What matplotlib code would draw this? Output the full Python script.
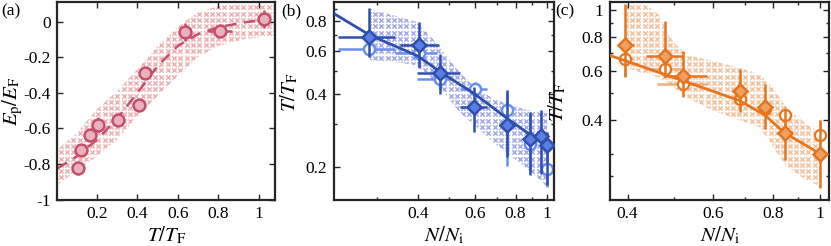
import numpy as np
import matplotlib
matplotlib.use("Agg")
import matplotlib.pyplot as plt
from matplotlib.patches import Polygon
from matplotlib.ticker import FixedLocator, NullFormatter

plt.rcParams['font.family'] = ['Liberation Serif', 'DejaVu Serif']
plt.rcParams['mathtext.fontset'] = 'stix'
plt.rcParams['axes.unicode_minus'] = False

# ---------------- data (a) ----------------
a_x = [0.104, 0.122, 0.167, 0.203, 0.302, 0.406, 0.439, 0.637, 0.807, 1.028]
a_y = [-0.825, -0.72, -0.64, -0.579, -0.553, -0.468, -0.29, -0.06, -0.053, 0.015]
a_xerr = [0.005, 0.005, 0.005, 0.005, 0.01, 0.005, 0.005, 0.01, 0.058, 0.02]
a_yerr = [0.04, 0.03, 0.02, 0.04, 0.03, 0.01, 0.03, 0.05, 0.035, 0.05]
a_fit_x = [0.005, 0.1, 0.2, 0.3, 0.4, 0.5, 0.6, 0.7, 0.8, 0.93, 1.06]
a_fit_y = [-0.825, -0.758, -0.664, -0.545, -0.4, -0.249, -0.136, -0.07, -0.032, -0.004, 0.015]
a_band_x = [0.005, 0.1, 0.2, 0.3, 0.4, 0.5, 0.6, 0.7, 0.8, 0.93, 1.08]
a_band_hi = [-0.72, -0.626, -0.494, -0.39, -0.268, -0.136, -0.03, 0.053, 0.087, 0.11, 0.12]
a_band_lo = [-0.92, -0.834, -0.758, -0.664, -0.532, -0.419, -0.306, -0.2, -0.136, -0.098, -0.08]

# ---------------- data (b) ----------------
b_dia_x = [0.284, 0.404, 0.468, 0.597, 0.752, 0.887, 0.957, 1.0]
b_dia_y = [0.69, 0.636, 0.49, 0.354, 0.297, 0.262, 0.268, 0.246]
b_dia_xlo = [0.227, 0.353, 0.397, 0.54, 0.71, 0.87, 0.94, 0.985]
b_dia_xhi = [0.34, 0.464, 0.54, 0.652, 0.79, 0.905, 0.975, 1.01]
b_dia_ylo = [0.57, 0.511, 0.40, 0.279, 0.22, 0.185, 0.188, 0.168]
b_dia_yhi = [0.91, 0.795, 0.588, 0.428, 0.415, 0.338, 0.344, 0.279]
b_cir_x = [0.284, 0.404, 0.468, 0.6, 0.752, 0.887, 1.0]
b_cir_y = [0.617, 0.589, 0.463, 0.422, 0.344, 0.25, 0.197]
b_cir_xlo = [0.227, 0.34, 0.397, 0.54, 0.74, 0.875, 0.99]
b_cir_xhi = [0.34, 0.458, 0.515, 0.652, 0.765, 0.9, 1.01]
b_cir_ylo = [0.60, 0.575, 0.42, 0.38, 0.202, 0.19, 0.165]
b_cir_yhi = [0.635, 0.605, 0.50, 0.45, 0.41, 0.33, 0.25]
b_fit_x = [0.221, 0.285, 0.40, 0.468, 0.6, 0.752, 0.887, 1.0]
b_fit_y = [0.86, 0.70, 0.575, 0.495, 0.40, 0.318, 0.272, 0.246]
b_band_x = [0.285, 0.336, 0.397, 0.436, 0.479, 0.54, 0.6, 0.682, 0.77, 0.868, 1.0]
b_band_hi = [0.90, 0.846, 0.795, 0.70, 0.598, 0.49, 0.428, 0.383, 0.361, 0.344, 0.333]
b_band_lo = [0.552, 0.544, 0.526, 0.47, 0.41, 0.335, 0.297, 0.253, 0.223, 0.197, 0.166]

# ---------------- data (c) ----------------
c_dia_x = [0.396, 0.479, 0.522, 0.682, 0.77, 0.845, 1.0]
c_dia_y = [0.75, 0.681, 0.578, 0.51, 0.447, 0.359, 0.302]
c_dia_xlo = [0.384, 0.436, 0.475, 0.657, 0.76, 0.816, 0.99]
c_dia_xhi = [0.412, 0.522, 0.584, 0.709, 0.78, 0.871, 1.01]
c_dia_ylo = [0.57, 0.57, 0.483, 0.427, 0.372, 0.287, 0.227]
c_dia_yhi = [1.055, 0.913, 0.71, 0.61, 0.54, 0.433, 0.399]
c_cir_x = [0.396, 0.479, 0.522, 0.682, 0.77, 0.845, 1.0]
c_cir_y = [0.663, 0.61, 0.542, 0.477, 0.44, 0.416, 0.353]
c_cir_xlo = [0.385, 0.436, 0.46, 0.67, 0.76, 0.835, 0.99]
c_cir_xhi = [0.41, 0.522, 0.585, 0.695, 0.78, 0.855, 1.01]
c_cir_ylo = [0.577, 0.58, 0.52, 0.44, 0.42, 0.36, 0.33]
c_cir_yhi = [0.75, 0.64, 0.57, 0.55, 0.46, 0.45, 0.40]
c_fit_x = [0.368, 0.522, 0.682, 0.77, 0.845, 1.0]
c_fit_y = [0.685, 0.554, 0.47, 0.416, 0.359, 0.302]
c_band_x = [0.398, 0.436, 0.464, 0.496, 0.528, 0.6, 0.682, 0.75, 0.799, 0.851, 0.934, 1.0]
c_band_hi = [1.05, 1.05, 0.96, 0.77, 0.69, 0.654, 0.618, 0.586, 0.525, 0.445, 0.388, 0.362]
c_band_lo = [0.618, 0.586, 0.57, 0.53, 0.483, 0.433, 0.399, 0.377, 0.32, 0.272, 0.243, 0.23]

# colours
a_dark, a_face, a_hatch = '#c4506e', '#e8b2b8', '#eeb2b4'
b_dark, b_face, b_light, b_hatch = '#2d4fae', '#5a7fe0', '#6a8ff0', '#a6ace8'
c_dark, c_face, c_light, c_hatch = '#e5761f', '#f0a060', '#efae7c', '#f4c29c'

fig = plt.figure(figsize=(8.31, 2.46), dpi=100)
W, H = 831, 246
ax_a = fig.add_axes([57.5 / W, 1 - 199.5 / H, 217.5 / W, 197.5 / H])
ax_b = fig.add_axes([334 / W, 1 - 199.5 / H, 220 / W, 197.5 / H])
ax_c = fig.add_axes([610 / W, 1 - 199.5 / H, 219 / W, 197.5 / H])


def hatch_band(ax, x, lo, hi, color):
    # cross pattern, clipped by the band outline
    verts = np.column_stack([np.r_[x, x[::-1]], np.r_[lo, hi[::-1]]])
    patch = Polygon(verts, closed=True, facecolor='none', edgecolor='none')
    ax.add_patch(patch)
    bb = ax.get_position()
    wpx, hpx = bb.width * W, bb.height * H
    step = 6.3
    gx, gy = np.meshgrid(np.arange(step / 2, wpx, step) / wpx,
                         np.arange(step / 2, hpx, step) / hpx)
    sc = ax.scatter(gx.ravel(), gy.ravel(), marker='x', s=10, linewidths=1.1,
                    color=color, transform=ax.transAxes, zorder=1)
    sc.set_clip_path(patch)


def errs(v, lo, hi):
    v, lo, hi = np.array(v), np.array(lo), np.array(hi)
    return np.vstack([v - lo, hi - v])


def style(ax):
    for s in ax.spines.values():
        s.set_linewidth(1.6)
        s.set_color('#262626')
    ax.tick_params(which='both', direction='in', top=True, right=True,
                   labelsize=12.5, color='#262626', width=1.0)
    ax.tick_params(which='major', length=4, pad=5)
    ax.tick_params(which='minor', length=2.2)


LAB = 15
XLAB_Y = -0.128

# ---------------- panel (a) ----------------
hatch_band(ax_a, a_band_x, a_band_lo, a_band_hi, a_hatch)
ax_a.plot(a_fit_x, a_fit_y, '--', color=a_dark, lw=1.8, dashes=(4.5, 3), zorder=2)
ax_a.errorbar(a_x, a_y, xerr=a_xerr, yerr=a_yerr, fmt='o', ms=8.5, mfc=a_face,
              mec=a_dark, mew=1.8, ecolor=a_dark, elinewidth=1.8, capsize=0, zorder=3)
ax_a.set_xlim(0.005, 1.08)
ax_a.set_ylim(-1, 0.11)
ax_a.set_xticks([0.2, 0.4, 0.6, 0.8, 1.0], ['0.2', '0.4', '0.6', '0.8', '1'])
ax_a.set_yticks([-1, -0.8, -0.6, -0.4, -0.2, 0], ['-1', '-0.8', '-0.6', '-0.4', '-0.2', '0'])
ax_a.set_xlabel(r'$T/T_{\rm F}$', fontsize=LAB)
ax_a.set_ylabel(r'$E_{\rm p}/E_{\rm F}$', fontsize=LAB)
ax_a.xaxis.set_label_coords(0.5, XLAB_Y)
ax_a.yaxis.set_label_coords(-0.15, 0.5)
style(ax_a)

# ---------------- panel (b) ----------------
ax_b.set_xscale('log')
ax_b.set_yscale('log')
hatch_band(ax_b, b_band_x, b_band_lo, b_band_hi, b_hatch)
ax_b.errorbar(b_cir_x, b_cir_y, xerr=errs(b_cir_x, b_cir_xlo, b_cir_xhi),
              yerr=errs(b_cir_y, b_cir_ylo, b_cir_yhi), fmt='o', ms=8, mfc='white',
              mec=b_light, mew=1.8, ecolor=b_light, elinewidth=1.8, capsize=0, zorder=2)
ax_b.plot(b_fit_x, b_fit_y, '-', color=b_dark, lw=2, zorder=3)
ax_b.errorbar(b_dia_x, b_dia_y, xerr=errs(b_dia_x, b_dia_xlo, b_dia_xhi),
              yerr=errs(b_dia_y, b_dia_ylo, b_dia_yhi), fmt='D', ms=7.5, mfc=b_face,
              mec=b_dark, mew=1.8, ecolor=b_dark, elinewidth=1.8, capsize=0, zorder=4)
ax_b.set_xlim(0.221, 1.05)
ax_b.set_ylim(0.147, 0.96)
ax_b.xaxis.set_major_locator(FixedLocator([0.4, 0.6, 0.8, 1.0]))
ax_b.set_xticklabels(['0.4', '0.6', '0.8', '1'])
ax_b.xaxis.set_minor_locator(FixedLocator([0.3, 0.5, 0.7, 0.9]))
ax_b.yaxis.set_major_locator(FixedLocator([0.2, 0.4, 0.6, 0.8]))
ax_b.set_yticklabels(['0.2', '0.4', '0.6', '0.8'])
ax_b.yaxis.set_minor_locator(FixedLocator([0.3, 0.5, 0.7, 0.9]))
ax_b.xaxis.set_minor_formatter(NullFormatter())
ax_b.yaxis.set_minor_formatter(NullFormatter())
ax_b.set_xlabel(r'$N/N_{\rm i}$', fontsize=LAB)
ax_b.set_ylabel(r'$T/T_{\rm F}$', fontsize=LAB)
ax_b.xaxis.set_label_coords(0.5, XLAB_Y)
ax_b.yaxis.set_label_coords(-0.155, 0.54)
style(ax_b)

# ---------------- panel (c) ----------------
ax_c.set_xscale('log')
ax_c.set_yscale('log')
hatch_band(ax_c, c_band_x, c_band_lo, c_band_hi, c_hatch)
ax_c.errorbar(c_cir_x, c_cir_y, xerr=errs(c_cir_x, c_cir_xlo, c_cir_xhi),
              yerr=errs(c_cir_y, c_cir_ylo, c_cir_yhi), fmt='o', ms=8, mfc='white',
              mec=c_dark, mew=1.6, ecolor=c_light, elinewidth=1.8, capsize=0, zorder=2)
ax_c.plot(c_fit_x, c_fit_y, '-', color=c_dark, lw=2, zorder=3)
ax_c.errorbar(c_dia_x, c_dia_y, xerr=errs(c_dia_x, c_dia_xlo, c_dia_xhi),
              yerr=errs(c_dia_y, c_dia_ylo, c_dia_yhi), fmt='D', ms=7.5, mfc=c_face,
              mec=c_dark, mew=1.8, ecolor=c_dark, elinewidth=1.8, capsize=0, zorder=4)
ax_c.set_xlim(0.368, 1.044)
ax_c.set_ylim(0.206, 1.07)
ax_c.xaxis.set_major_locator(FixedLocator([0.4, 0.6, 0.8, 1.0]))
ax_c.set_xticklabels(['0.4', '0.6', '0.8', '1'])
ax_c.xaxis.set_minor_locator(FixedLocator([0.5, 0.7, 0.9]))
ax_c.yaxis.set_major_locator(FixedLocator([0.4, 0.6, 0.8, 1.0]))
ax_c.set_yticklabels(['0.4', '0.6', '0.8', '1'])
ax_c.yaxis.set_minor_locator(FixedLocator([0.25, 0.3, 0.5, 0.7, 0.9]))
ax_c.xaxis.set_minor_formatter(NullFormatter())
ax_c.yaxis.set_minor_formatter(NullFormatter())
ax_c.set_xlabel(r'$N/N_{\rm i}$', fontsize=LAB)
ax_c.set_ylabel(r'$T/T_{\rm F}$', fontsize=LAB)
ax_c.xaxis.set_label_coords(0.5, XLAB_Y)
ax_c.yaxis.set_label_coords(-0.19, 0.49)
style(ax_c)

# panel letters
fig.text(1 / W, 1 - 11 / H, '(a)', fontsize=12.5, va='center', ha='left')
fig.text(281 / W, 1 - 11 / H, '(b)', fontsize=12.5, va='center', ha='left')
fig.text(555 / W, 1 - 11 / H, '(c)', fontsize=12.5, va='center', ha='left')

fig.savefig('out.png', dpi=100)
